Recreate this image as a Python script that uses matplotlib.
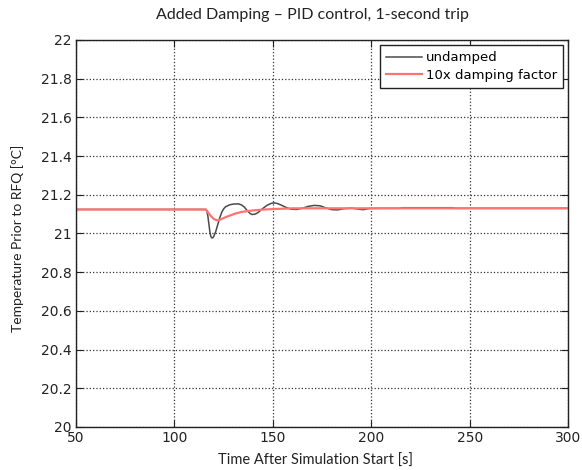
import numpy as np
import matplotlib
matplotlib.use('Agg')
import matplotlib.pyplot as plt

# undamped response
t_undamped = [50, 116, 116.5, 117, 117.5, 118, 118.5, 119, 119.5, 120, 121,
              122, 123, 124, 125, 126, 128, 130, 132.5, 134, 135.5, 137,
              138.5, 139.5, 141, 142.5, 145, 147, 149, 150.5, 152, 154, 156,
              159, 162, 165, 168, 171, 174, 177, 180, 183, 186, 190, 194,
              196, 199, 205, 214, 216, 241, 243, 300]
T_undamped = [21.124, 21.124, 21.115, 21.090, 21.050, 21.010, 20.985, 20.977,
              20.978, 20.985, 21.010, 21.045, 21.080, 21.108, 21.127, 21.138,
              21.148, 21.152, 21.153, 21.148, 21.137, 21.118, 21.103, 21.098,
              21.100, 21.108, 21.130, 21.145, 21.155, 21.158, 21.156, 21.148,
              21.138, 21.126, 21.124, 21.130, 21.140, 21.145, 21.143, 21.132,
              21.123, 21.122, 21.128, 21.131, 21.125, 21.123, 21.129, 21.130,
              21.130, 21.133, 21.133, 21.130, 21.130]

# 10x damping factor response
t_damped = [50, 116, 117, 118.5, 120, 121.5, 123, 125, 128, 131, 134, 138,
            142, 146, 150, 155, 160, 300]
T_damped = [21.124, 21.124, 21.110, 21.090, 21.075, 21.068, 21.070, 21.080,
            21.092, 21.103, 21.111, 21.117, 21.121, 21.124, 21.126, 21.128,
            21.130, 21.130]

xticks = [50, 100, 150, 200, 250, 300]
yticks = [20, 20.2, 20.4, 20.6, 20.8, 21, 21.2, 21.4, 21.6, 21.8, 22]

fig = plt.figure(figsize=(5.82, 4.70), dpi=100)
ax = fig.add_axes([0.1306, 0.0915, 0.976 - 0.1306, 0.915 - 0.0915])

ax.plot(t_undamped, T_undamped, '-', c='#4a4a4a', lw=1.1, label='undamped')
ax.plot(t_damped, T_damped, '-', c='#ff7373', lw=1.6, label='10x damping factor')

ax.set_xlim(50, 300)
ax.set_ylim(20, 22)
ax.set_xticks(xticks)
ax.set_yticks(yticks)
ax.set_xticklabels([str(x) for x in xticks])
ax.set_yticklabels(['%g' % y for y in yticks])

ax.grid(True, ls=':', c='#333333', lw=0.9)
ax.tick_params(direction='in', top=True, right=True, length=5, width=0.8,
               labelsize=10, colors='#222222', pad=3)
for s in ax.spines.values():
    s.set_linewidth(1.0)
    s.set_color('#222222')

leg = ax.legend(loc='upper right', fontsize=9.5, fancybox=False,
                framealpha=1, edgecolor='#222222', borderaxespad=0.4,
                handlelength=2.7, handletextpad=0.3, borderpad=0.45,
                labelspacing=0.35)
leg.get_frame().set_linewidth(1.0)

fig.text(312 / 582, 1 - 15 / 470,
         'Added Damping \u2013 PID control, 1-second trip',
         family='Lato', fontsize=11.5, color='#222222',
         ha='center', va='center')
fig.text(316 / 582, 1 - 461 / 470, 'Time After Simulation Start [s]',
         family='Lato', fontsize=10.5, color='#222222',
         ha='center', va='center')
fig.text(18 / 582, 1 - 238 / 470, 'Temperature Prior to RFQ [\u00b0C]',
         family='Lato', fontsize=10, color='#222222',
         ha='center', va='center', rotation=90)

plt.savefig('out.png', dpi=100)
